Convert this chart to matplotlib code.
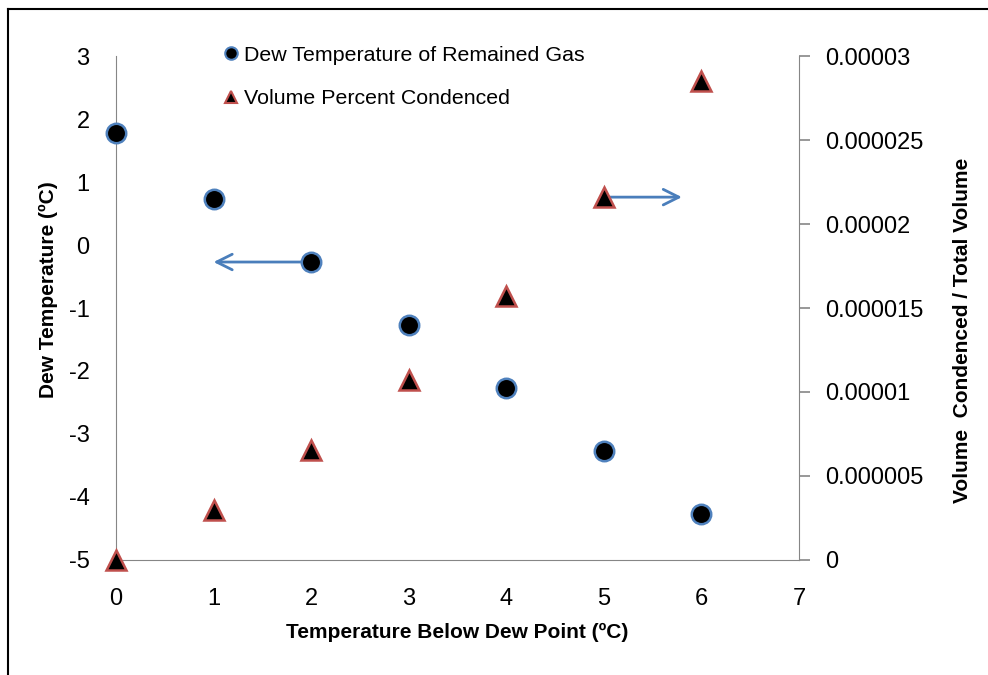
import matplotlib
matplotlib.use('Agg')
import matplotlib.pyplot as plt
from matplotlib.lines import Line2D

plt.rcParams['font.family'] = ['Liberation Sans', 'DejaVu Sans']
plt.rcParams['axes.unicode_minus'] = False

# data
temp_below = [0, 1, 2, 3, 4, 5, 6]
dew_temp = [1.78, 0.73, -0.27, -1.27, -2.27, -3.27, -4.27]
vol_cond = [0.0, 3.0e-6, 6.55e-6, 1.07e-5, 1.57e-5, 2.16e-5, 2.85e-5]
x_ticks = [0, 1, 2, 3, 4, 5, 6, 7]
left_ticks = [-5, -4, -3, -2, -1, 0, 1, 2, 3]
right_ticks = [0, 0.000005, 0.00001, 0.000015, 0.00002, 0.000025, 0.00003]
right_labels = ['0', '0.000005', '0.00001', '0.000015', '0.00002', '0.000025', '0.00003']

grey = '#868686'
blue = '#4f81bd'
red = '#c0504d'
arrow_col = '#4a7ebb'

fig = plt.figure(figsize=(9.88, 6.75), dpi=100)
ax = fig.add_axes([0.1174, 0.1704, 0.6913, 0.7466])
ax2 = ax.twinx()

ax.set_xlim(0, 7)
ax.set_ylim(-5, 3)
ax2.set_ylim(0, 0.00003)

for a in (ax, ax2):
    a.spines['top'].set_visible(False)
    a.set_facecolor('none')
ax.spines['right'].set_visible(False)
ax.spines['left'].set_color(grey)
ax.spines['bottom'].set_color(grey)
ax2.spines['left'].set_visible(False)
ax2.spines['bottom'].set_visible(False)
ax2.spines['right'].set_color(grey)

ax.set_xticks(x_ticks)
ax.set_yticks(left_ticks)
ax.tick_params(axis='both', length=0, labelsize=17, colors='black')
ax.tick_params(axis='y', pad=19)
ax.tick_params(axis='x', pad=20)
ax2.set_yticks(right_ticks)
ax2.set_yticklabels(right_labels)
ax2.tick_params(axis='y', length=8, width=1.2, color=grey, labelsize=17, pad=11)

ax.plot(temp_below, dew_temp, 'o', ms=14, mfc='black', mec=blue, mew=1.8,
        clip_on=False, zorder=5)
ax2.plot(temp_below, vol_cond, '^', ms=15, mfc='black', mec=red, mew=1.8,
         clip_on=False, zorder=5)

# arrows pointing to the matching axis
ax.annotate('', xy=(1.0, dew_temp[2]), xytext=(2, dew_temp[2]),
            arrowprops=dict(arrowstyle='->', color=arrow_col, lw=2,
                            mutation_scale=28, shrinkA=0, shrinkB=0))
ax.annotate('', xy=(5.8, 0.76), xytext=(5, 0.76),
            arrowprops=dict(arrowstyle='->', color=arrow_col, lw=2,
                            mutation_scale=28, shrinkA=0, shrinkB=0))

ax.set_xlabel('Temperature Below Dew Point (ºC)', fontsize=15, fontweight='bold')
ax.set_ylabel('Dew Temperature (ºC)', fontsize=15, fontweight='bold')
ax2.set_ylabel('Volume  Condenced / Total Volume', fontsize=15, fontweight='bold')
ax.xaxis.set_label_coords(0.5, -0.143)
ax.yaxis.set_label_coords(-0.099, 0.536)
ax2.yaxis.set_label_coords(1.239, 0.456)
ax.xaxis.label.set_va('center')
ax.yaxis.label.set_va('center')
ax2.yaxis.label.set_va('center')

h1 = Line2D([], [], marker='o', ls='none', ms=9, mfc='black', mec=blue, mew=1.5)
h2 = Line2D([], [], marker='^', ls='none', ms=9, mfc='black', mec=red, mew=1.5)
fig.legend([h1, h2], ['Dew Temperature of Remained Gas', 'Volume Percent Condenced'],
           loc='upper left', bbox_to_anchor=(0.219, 0.945), frameon=False,
           fontsize=15.4, handlelength=0.6, handletextpad=0.3, labelspacing=1.15,
           borderaxespad=0)

# page border lines
fig.add_artist(Line2D([0.008, 1.0], [0.987, 0.987], color='black', lw=1.5))
fig.add_artist(Line2D([0.008, 0.008], [0.0, 0.987], color='black', lw=1.5))

fig.savefig('out.png', dpi=100)
